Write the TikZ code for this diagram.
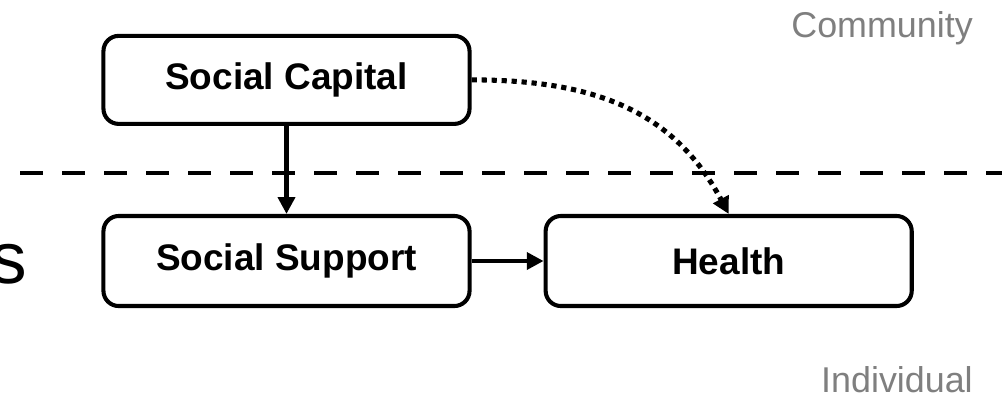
\documentclass[tikz,border=0pt]{standalone}
\usepackage{fontspec}
\setmainfont{Liberation Sans}
\usepackage{xcolor}
\usepackage{tikz}
\usetikzlibrary{arrows.meta,positioning}

\definecolor{levelgray}{HTML}{7F7F7F}

\begin{document}
\begin{tikzpicture}[
    x=0.025cm, y=-0.025cm,
    every node/.style={align=center},
    box/.style={
        rectangle,
        rounded corners=0.38cm,
        draw=black,
        line width=2.9pt,
        minimum width=9.15cm,
        minimum height=2.2cm,
        font=\fontsize{26.3}{30}\selectfont\bfseries
    },
    link/.style={
        line width=2.9pt,
        -{Triangle[length=0.42cm,width=0.42cm]}
    },
    level/.style={
        text=levelgray,
        inner sep=0pt,
        font=\fontsize{25.5}{30}\selectfont
    }
]
\useasboundingbox (0,0) rectangle (1002,404);

\node[box, minimum height=2.25cm] (support) at (286.5,261) {Social Support};
\node[box, above=2.2cm of support] (capital) {Social Capital};
\node[box, minimum height=2.25cm, right=1.8cm of support] (health) {Health};

% level divider
\coordinate (divL) at (20,173);
\coordinate (divR) at (1002,173);
\draw[line width=3.5pt, dash pattern=on 0.575cm off 0.475cm] (divL) -- (divR);

\node[level, anchor=base east] (community) at (973,37) {Community};
\node[level, anchor=base east] (individual) at (973,392) {Individual};
\node[inner sep=0pt, anchor=base east, font=\fontsize{52}{60}\selectfont] (cut) at (27,283) {s};

\draw[link] (capital) -- (support);
\draw[link] (support) -- (health);
\draw[link, line width=3.6pt, dash pattern=on 0.13cm off 0.12cm]
    (capital.east) to[out=0, in=118, looseness=1.05] (health.north);
\end{tikzpicture}
\end{document}
